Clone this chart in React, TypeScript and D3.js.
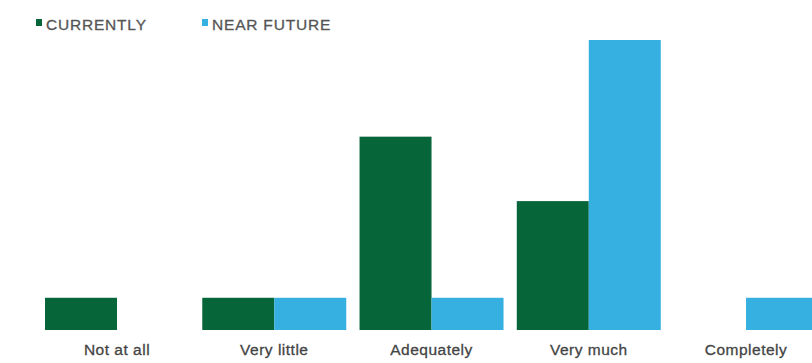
import React from "react";
import * as d3 from "d3";

const categories = ["Not at all", "Very little", "Adequately", "Very much", "Completely"];
const seriesNames = ["CURRENTLY", "NEAR FUTURE"];
const currently = [1, 1, 6, 4, 0];
const nearFuture = [0, 1, 1, 9, 1];
const colors = ["#07653a", "#35b0e0"];

const W = 812;
const H = 363;

export default function App() {
  const x = d3
    .scaleBand<string>()
    .domain(categories)
    .range([38.4, 38.4 + 5 * 157.25])
    .paddingInner(0.0843)
    .paddingOuter(0.0421);
  const xs = d3.scaleBand<string>().domain(seriesNames).range([0, x.bandwidth()]).padding(0);
  const y = d3.scaleLinear().domain([0, 9]).range([330, 40]);
  const values = [currently, nearFuture];

  return (
    <svg
      width={W}
      height={H}
      style={{ position: "absolute", left: 0, top: 0, display: "block", background: "#fff" }}
      fontFamily="'Liberation Sans', Arial, sans-serif"
    >
      {/* legend */}
      <g fontSize={15.5} letterSpacing={0.8} fill="#555" stroke="#555" strokeWidth={0.3}>
        <rect x={36} y={19} width={6} height={7} fill={colors[0]} stroke="none" />
        <text x={46} y={29.5}>{seriesNames[0]}</text>
        <rect x={202} y={19} width={6} height={7} fill={colors[1]} stroke="none" />
        <text x={212} y={29.5}>{seriesNames[1]}</text>
      </g>
      {categories.map((c, i) => (
        <g key={c} transform={`translate(${x(c)},0)`}>
          {seriesNames.map((s, j) => {
            const v = values[j][i];
            if (!v) return null;
            return (
              <rect
                key={s}
                x={xs(s)}
                y={y(v)}
                width={xs.bandwidth()}
                height={y(0) - y(v)}
                fill={colors[j]}
              />
            );
          })}
          <text
            x={x.bandwidth() / 2}
            y={355}
            textAnchor="middle"
            fontSize={15.5}
            letterSpacing={0.5}
            fill="#444"
            stroke="#444"
            strokeWidth={0.3}
          >
            {c}
          </text>
        </g>
      ))}
    </svg>
  );
}
